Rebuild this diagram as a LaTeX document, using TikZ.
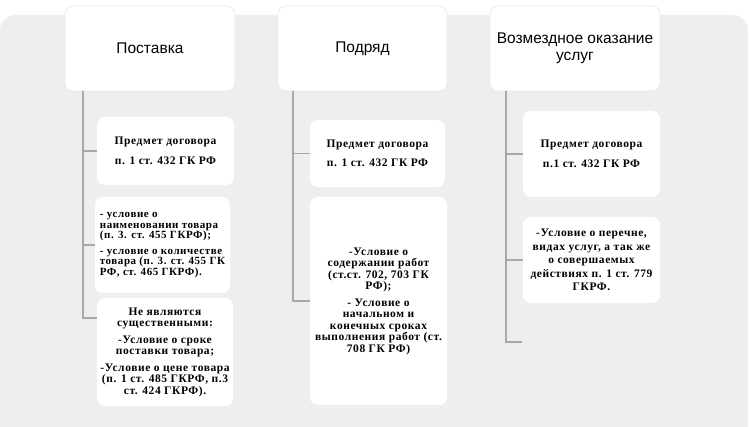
\documentclass[tikz,border=0pt]{standalone}
\usepackage{fontspec}
\setmainfont{Liberation Serif}
\newfontfamily\headfont{Liberation Sans}
\newfontfamily\bodyfont[LetterSpace=5]{Liberation Serif}
\usepackage{tikz}
\definecolor{bggray}{HTML}{EEEEEE}
\definecolor{linegray}{HTML}{A8A8A8}

\begin{document}
\begin{tikzpicture}[x=1pt,y=-1pt,
    headbox/.style={rectangle,rounded corners=8pt,fill=white,draw=black!8,line width=0.8pt,minimum width=170pt,minimum height=85pt,align=center,font=\headfont\fontsize{15.5}{17}\selectfont},
    itembox/.style={rectangle,rounded corners=8pt,fill=white,align=center,inner sep=2pt,font=\bodyfont\bfseries\fontsize{11.5}{11.5}\selectfont},
    link/.style={draw=linegray,line width=1.4pt}]
    \useasboundingbox (0,0) rectangle (750,427);
    \fill[bggray,rounded corners=15pt] (0,15) rectangle (748,460);
    % headers
    \node (post) at (150,48.5) [headbox] {Поставка};
    \node (podr) at (362.5,48.5) [headbox,minimum width=169pt] {Подряд};
    \node (usl) at (575,48.5) [headbox] {Возмездное оказание\\услуг};
    % Поставка
    \node (p1) at (165.5,151) [itembox,minimum width=137pt,minimum height=68pt] {Предмет договора\\[8pt]п. 1 ст. 432 ГК РФ};
    \node (p2) at (162.5,245) [itembox,align=left,minimum width=135pt,minimum height=96pt,font=\bodyfont\bfseries\fontsize{11}{10.5}\selectfont] {- условие о\\наименовании товара\\(п. 3. ст. 455 ГКРФ);\\[5pt]- условие о количестве\\товара (п. 3. ст. 455 ГК\\РФ, ст. 465 ГКРФ).};
    \node (p3) at (165,352) [itembox,minimum width=136pt,minimum height=108pt] {Не являются\\существенными:\\[5pt]-Условие о сроке\\поставки товара;\\[5pt]-Условие о цене товара\\(п. 1 ст. 485 ГКРФ, п.3\\ст. 424 ГКРФ).};
    % Подряд
    \node (d1) at (377.5,153.5) [itembox,minimum width=135pt,minimum height=67pt] {Предмет договора\\[8pt]п. 1 ст. 432 ГК РФ};
    \node (d2) at (378.5,301) [itembox,minimum width=137pt,minimum height=208pt] {-Условие о\\содержании работ\\(ст.ст. 702, 703 ГК\\РФ);\\[5pt]- Условие о\\начальном и\\конечных сроках\\выполнения работ (ст.\\708 ГК РФ)};
    % Возмездное оказание услуг
    \node (u1) at (591.5,154) [itembox,minimum width=137pt,minimum height=86pt] {Предмет договора\\[8pt]п.1 ст. 432 ГК РФ};
    \node (u2) at (591.5,260) [itembox,minimum width=137pt,minimum height=86pt,font=\bodyfont\bfseries\fontsize{11.5}{13.5}\selectfont] {-Условие о перечне,\\видах услуг, а так же\\о совершаемых\\действиях п. 1 ст. 779\\ГКРФ.};
    % connectors
    \coordinate (ptop) at (83,91);
    \coordinate (pend) at (97,318);
    \coordinate (dtop) at (293,91);
    \coordinate (utop) at (506,91);
    \coordinate (uend) at (522,342);
    \draw[link] (ptop) |- (p1.west);
    \draw[link] (ptop) |- (p2.west);
    \draw[link] (ptop) |- (pend);
    \draw[link] (dtop) |- (d1.west);
    \draw[link] (dtop) |- (d2.west);
    \draw[link] (utop) |- (u1.west);
    \draw[link] (utop) |- (u2.west);
    \draw[link] (utop) |- (uend);
\end{tikzpicture}
\end{document}
